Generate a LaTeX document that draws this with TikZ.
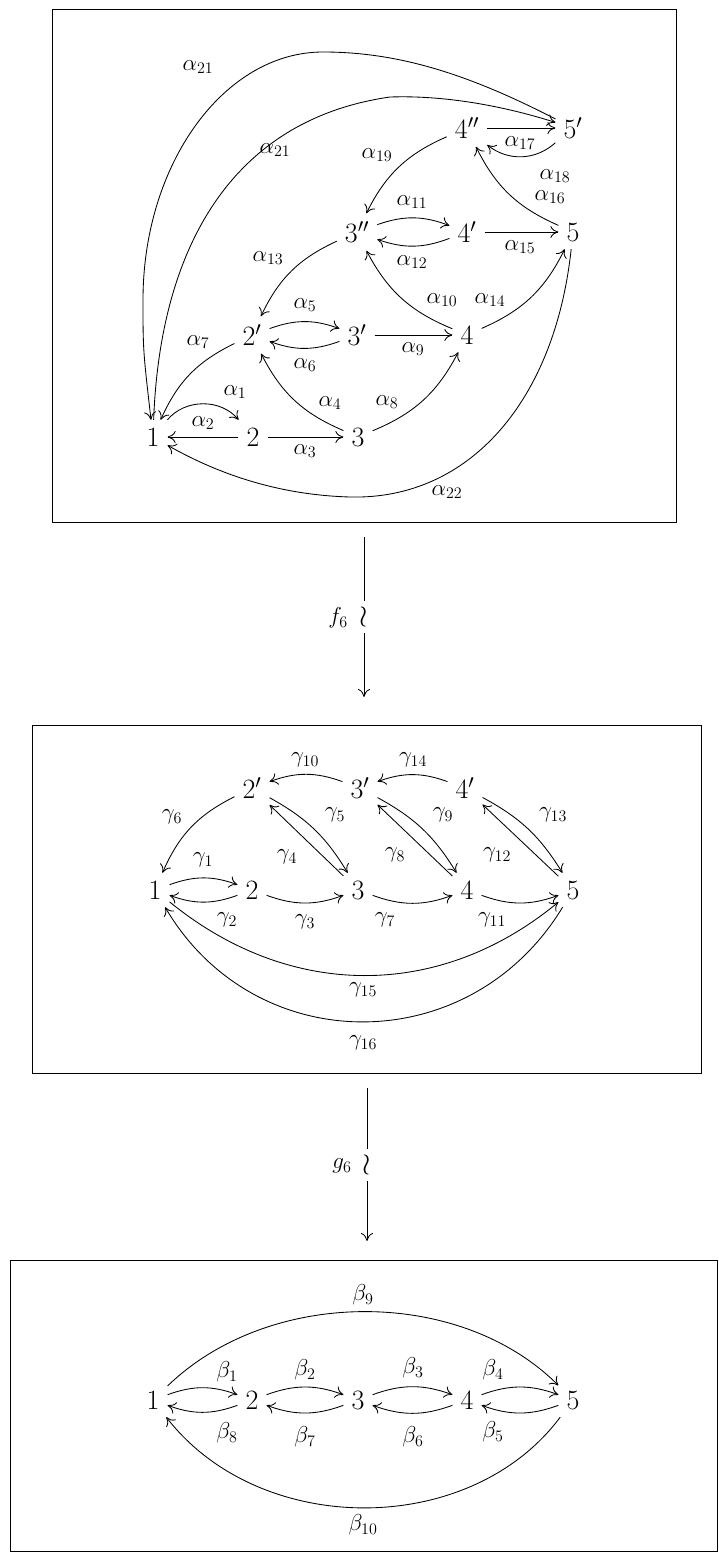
\RequirePackage{fix-cm}
\documentclass[tikz,border=0pt]{standalone}
\usetikzlibrary{arrows.meta}
\begin{document}
\begin{tikzpicture}[x=1pt,y=1pt,
  >={Computer Modern Rightarrow[length=8pt,width=12pt]},
  ob/.style={inner sep=8pt, font=\fontsize{28}{32}\selectfont},
  lab/.style={font=\fontsize{23}{27}\selectfont, inner sep=0pt},
  iso/.style={font=\fontsize{30}{34}\selectfont, fill=white, inner xsep=1pt, inner ysep=3pt},
  ar/.style={->, line width=0.85pt},
  box/.style={draw, line width=0.9pt}]
\useasboundingbox (0,0) rectangle (719,-1552);
% boxes
\draw[box] (52,-9) rectangle (676,-522);
\draw[box] (32,-725) rectangle (701,-1073);
\draw[box] (10,-1260) rectangle (717,-1551);

% ---------------- top box
\node[ob] (t1) at (153,-437) {$1$};
\node[ob] (t2) at (253,-437) {$2$};
\node[ob] (t3) at (358,-437) {$3$};
\node[ob] (t2p) at (252,-335) {$2'$};
\node[ob] (t3p) at (357,-335) {$3'$};
\node[ob] (t4) at (467,-335) {$4$};
\node[ob] (t3pp) at (357,-232) {$3''$};
\node[ob] (t4p) at (467,-232) {$4'$};
\node[ob] (t5) at (573,-232) {$5$};
\node[ob] (t4pp) at (467,-128) {$4''$};
\node[ob] (t5p) at (573,-128) {$5'$};

\draw[ar] (t1) to[bend left=50] (t2);
\draw[ar] (t2) -- (t1);
\draw[ar] (t2) -- (t3);
\draw[ar] (t3) to[bend left=20] (t2p);
\draw[ar] (t2p) to[bend left=20] (t3p);
\draw[ar] (t3p) to[bend left=20] (t2p);
\draw[ar] (t2p) to[bend right=20] (t1);
\draw[ar] (t3) to[bend right=20] (t4);
\draw[ar] (t3p) -- (t4);
\draw[ar] (t4) to[bend left=20] (t3pp);
\draw[ar] (t3pp) to[bend left=20] (t4p);
\draw[ar] (t4p) to[bend left=20] (t3pp);
\draw[ar] (t3pp) to[bend right=20] (t2p);
\draw[ar] (t4) to[bend right=20] (t5);
\draw[ar] (t4p) -- (t5);
\draw[ar] (t5) to[bend left=20] (t4pp);
\draw[ar] (t4pp) -- (t5p);
\draw[ar] (t5p) to[bend left=40] (t4pp);
\draw[ar] (t4pp) to[bend right=20] (t3pp);
\draw[ar] (t5p) .. controls (470,-75) and (400,-52) .. (323,-52)
   .. controls (224,-52) and (143,-164) .. (143,-300)
   .. controls (143,-350) .. (t1);
\draw[ar] (t1) .. controls (160,-250) and (230,-120) .. (390,-97)
   .. controls (450,-95) and (510,-108) .. (t5p);
\draw[ar] (t5) .. controls (555,-400) and (470,-500) .. (350,-497)
   .. controls (280,-495) and (220,-475) .. (t1);

\node[lab] (la1) at (235,-392) {$\alpha_1$};
\node[lab] (la2) at (203,-423) {$\alpha_2$};
\node[lab] (la3) at (305,-451) {$\alpha_3$};
\node[lab] (la4) at (330,-403) {$\alpha_4$};
\node[lab] (la5) at (305,-305) {$\alpha_5$};
\node[lab] (la6) at (305,-365) {$\alpha_6$};
\node[lab] (la7) at (198,-342) {$\alpha_7$};
\node[lab] (la8) at (387,-402) {$\alpha_8$};
\node[lab] (la9) at (413,-349) {$\alpha_9$};
\node[lab] (la10) at (442,-300) {$\alpha_{10}$};
\node[lab] (la11) at (412,-202) {$\alpha_{11}$};
\node[lab] (la12) at (412,-262) {$\alpha_{12}$};
\node[lab] (la13) at (268,-258) {$\alpha_{13}$};
\node[lab] (la14) at (490,-300) {$\alpha_{14}$};
\node[lab] (la15) at (520,-247) {$\alpha_{15}$};
\node[lab] (la16) at (550,-197) {$\alpha_{16}$};
\node[lab] (la17) at (520,-143) {$\alpha_{17}$};
\node[lab] (la18) at (555,-176) {$\alpha_{18}$};
\node[lab] (la19) at (377,-155) {$\alpha_{19}$};
\node[lab] (la21a) at (198,-67) {$\alpha_{21}$};
\node[lab] (la21b) at (275,-150) {$\alpha_{21}$};
\node[lab] (la22) at (447,-492) {$\alpha_{22}$};

% ---------------- arrow f6
\coordinate (fa) at (364,-537);
\coordinate (fb) at (364,-697);
\draw[ar] (fa) -- (fb);
\node[iso] (fw) at (364,-617) {$\wr$};
\node[lab] (fl) at (338,-618) {$f_6$};

% ---------------- middle box
\node[ob] (m1) at (155,-890) {$1$};
\node[ob] (m2) at (252,-890) {$2$};
\node[ob] (m3) at (358,-890) {$3$};
\node[ob] (m4) at (467,-890) {$4$};
\node[ob] (m5) at (573,-890) {$5$};
\node[ob] (m2p) at (252,-788) {$2'$};
\node[ob] (m3p) at (360,-788) {$3'$};
\node[ob] (m4p) at (465,-788) {$4'$};

\draw[ar] (m1) to[bend left=20] (m2);
\draw[ar] (m2) to[bend left=20] (m1);
\draw[ar] (m2) to[bend right=20] (m3);
\draw[ar] (m3) -- (m2p);
\draw[ar] (m2p) to[bend left=15] (m3);
\draw[ar] (m2p) to[bend right=20] (m1);
\draw[ar] (m3) to[bend right=20] (m4);
\draw[ar] (m4) -- (m3p);
\draw[ar] (m3p) to[bend left=15] (m4);
\draw[ar] (m3p) to[bend right=20] (m2p);
\draw[ar] (m4) to[bend right=20] (m5);
\draw[ar] (m5) -- (m4p);
\draw[ar] (m4p) to[bend left=15] (m5);
\draw[ar] (m4p) to[bend right=20] (m3p);
\draw[ar] (m1) .. controls (290,-1000) and (440,-1000) .. (m5);
\draw[ar] (m5) .. controls (470,-1060) and (255,-1060) .. (m1);

\node[lab] (lg1) at (203,-860) {$\gamma_1$};
\node[lab] (lg2) at (227,-920) {$\gamma_2$};
\node[lab] (lg3) at (305,-922) {$\gamma_3$};
\node[lab] (lg4) at (287,-857) {$\gamma_4$};
\node[lab] (lg5) at (335,-815) {$\gamma_5$};
\node[lab] (lg6) at (172,-817) {$\gamma_6$};
\node[lab] (lg7) at (385,-920) {$\gamma_7$};
\node[lab] (lg8) at (395,-855) {$\gamma_8$};
\node[lab] (lg9) at (443,-815) {$\gamma_9$};
\node[lab] (lg10) at (305,-760) {$\gamma_{10}$};
\node[lab] (lg11) at (492,-920) {$\gamma_{11}$};
\node[lab] (lg12) at (497,-855) {$\gamma_{12}$};
\node[lab] (lg13) at (553,-815) {$\gamma_{13}$};
\node[lab] (lg14) at (413,-760) {$\gamma_{14}$};
\node[lab] (lg15) at (363,-990) {$\gamma_{15}$};
\node[lab] (lg16) at (363,-1043) {$\gamma_{16}$};

% ---------------- arrow g6
\coordinate (ga) at (367,-1088);
\coordinate (gb) at (367,-1241);
\draw[ar] (ga) -- (gb);
\node[iso] (gw) at (367,-1165) {$\wr$};
\node[lab] (gl) at (342,-1166) {$g_6$};

% ---------------- bottom box
\node[ob] (b1) at (153,-1400) {$1$};
\node[ob] (b2) at (252,-1400) {$2$};
\node[ob] (b3) at (358,-1400) {$3$};
\node[ob] (b4) at (467,-1400) {$4$};
\node[ob] (b5) at (573,-1400) {$5$};

\draw[ar] (b1) to[bend left=20] (b2);
\draw[ar] (b2) to[bend left=20] (b1);
\draw[ar] (b2) to[bend left=20] (b3);
\draw[ar] (b3) to[bend left=20] (b2);
\draw[ar] (b3) to[bend left=20] (b4);
\draw[ar] (b4) to[bend left=20] (b3);
\draw[ar] (b4) to[bend left=20] (b5);
\draw[ar] (b5) to[bend left=20] (b4);
\draw[ar] (b1) .. controls (270,-1287) and (460,-1287) .. (b5);
\draw[ar] (b5) .. controls (470,-1538) and (260,-1538) .. (b1);

\node[lab] (lb1) at (227,-1372) {$\beta_1$};
\node[lab] (lb2) at (305,-1370) {$\beta_2$};
\node[lab] (lb3) at (413,-1368) {$\beta_3$};
\node[lab] (lb4) at (493,-1370) {$\beta_4$};
\node[lab] (lb5) at (493,-1432) {$\beta_5$};
\node[lab] (lb6) at (413,-1437) {$\beta_6$};
\node[lab] (lb7) at (305,-1437) {$\beta_7$};
\node[lab] (lb8) at (227,-1433) {$\beta_8$};
\node[lab] (lb9) at (363,-1295) {$\beta_9$};
\node[lab] (lb10) at (363,-1525) {$\beta_{10}$};
\end{tikzpicture}
\end{document}
